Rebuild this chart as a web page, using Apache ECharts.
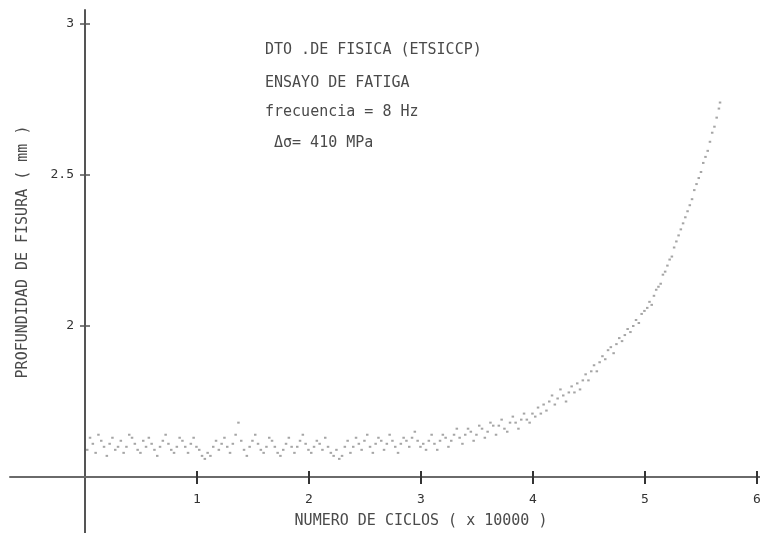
<!DOCTYPE html>
<html>
<head>
<meta charset="utf-8">
<title>Ensayo de fatiga</title>
<script src="https://cdn.jsdelivr.net/npm/echarts@6/dist/echarts.min.js"></script>
<style>
  html, body { margin: 0; padding: 0; background: #fff; }
  #chart { width: 760px; height: 533px; }
</style>
</head>
<body>
<div id="chart"></div>
<script>
// Ciclos (x 10000) y profundidad de fisura (mm), tramo a tramo
const ciclos = [
  0.02, 0.045, 0.07, 0.095, 0.12, 0.145, 0.17, 0.195, 0.22, 0.245,
  0.27, 0.295, 0.32, 0.345, 0.37, 0.395, 0.42, 0.445, 0.47, 0.495,
  0.52, 0.545, 0.57, 0.595, 0.62, 0.645, 0.67, 0.695, 0.72, 0.745,
  0.77, 0.795, 0.82, 0.845, 0.87, 0.895, 0.92, 0.945, 0.97, 0.995,
  1.02, 1.045, 1.07, 1.095, 1.12, 1.145, 1.17, 1.195, 1.22, 1.245,
  1.27, 1.295, 1.32, 1.345, 1.37, 1.395, 1.42, 1.445, 1.47, 1.495,
  1.52, 1.545, 1.57, 1.595, 1.62, 1.645, 1.67, 1.695, 1.72, 1.745,
  1.77, 1.795, 1.82, 1.845, 1.87, 1.895, 1.92, 1.945, 1.97, 1.995,
  2.02, 2.045, 2.07, 2.095, 2.12, 2.145, 2.17, 2.195, 2.22, 2.245,
  2.27, 2.295, 2.32, 2.345, 2.37, 2.395, 2.42, 2.445, 2.47, 2.495,
  2.52, 2.545, 2.57, 2.595, 2.62, 2.645, 2.67, 2.695, 2.72, 2.745,
  2.77, 2.795, 2.82, 2.845, 2.87, 2.895, 2.92, 2.945, 2.97, 2.995,
  3.02, 3.045, 3.07, 3.095, 3.12, 3.145, 3.17, 3.195, 3.22, 3.245,
  3.27, 3.295, 3.32, 3.345, 3.37, 3.395, 3.42, 3.445, 3.47, 3.495,
  3.52, 3.545, 3.57, 3.595, 3.62, 3.645, 3.67, 3.695, 3.72, 3.745,
  3.77, 3.795, 3.82, 3.845, 3.87, 3.895, 3.92, 3.945, 3.97, 3.995,
  4.02, 4.045, 4.07, 4.095, 4.12, 4.145, 4.17, 4.195, 4.22, 4.245,
  4.27, 4.295, 4.32, 4.345, 4.37, 4.395, 4.42, 4.445, 4.47, 4.495,
  4.52, 4.545, 4.57, 4.595, 4.62, 4.645, 4.67, 4.695, 4.72, 4.745,
  4.77, 4.795, 4.82, 4.845, 4.87, 4.895, 4.92, 4.945, 4.97, 4.995,
  5.02, 5.04, 5.06, 5.08, 5.10, 5.12, 5.14, 5.16, 5.18, 5.20,
  5.22, 5.24, 5.26, 5.28, 5.30, 5.32, 5.34, 5.36, 5.38, 5.40,
  5.42, 5.44, 5.46, 5.48, 5.50, 5.52, 5.54, 5.56, 5.58, 5.60,
  5.62, 5.64, 5.66, 5.67
];
const profundidad = [
  1.59, 1.63, 1.61, 1.58, 1.64, 1.62, 1.60, 1.57, 1.61, 1.63,
  1.59, 1.60, 1.62, 1.58, 1.60, 1.64, 1.63, 1.61, 1.59, 1.58,
  1.62, 1.60, 1.63, 1.61, 1.59, 1.57, 1.60, 1.62, 1.64, 1.61,
  1.59, 1.58, 1.60, 1.63, 1.62, 1.60, 1.58, 1.61, 1.63, 1.60,
  1.59, 1.57, 1.56, 1.58, 1.57, 1.60, 1.62, 1.59, 1.61, 1.63,
  1.60, 1.58, 1.61, 1.64, 1.68, 1.62, 1.59, 1.57, 1.60, 1.62,
  1.64, 1.61, 1.59, 1.58, 1.60, 1.63, 1.62, 1.60, 1.58, 1.57,
  1.59, 1.61, 1.63, 1.60, 1.58, 1.60, 1.62, 1.64, 1.61, 1.59,
  1.58, 1.60, 1.62, 1.61, 1.59, 1.63, 1.60, 1.58, 1.57, 1.59,
  1.56, 1.57, 1.60, 1.62, 1.58, 1.60, 1.63, 1.61, 1.59, 1.62,
  1.64, 1.60, 1.58, 1.61, 1.63, 1.62, 1.59, 1.61, 1.64, 1.62,
  1.60, 1.58, 1.61, 1.63, 1.62, 1.60, 1.63, 1.65, 1.62, 1.60,
  1.61, 1.59, 1.62, 1.64, 1.61, 1.59, 1.62, 1.64, 1.63, 1.60,
  1.62, 1.64, 1.66, 1.63, 1.61, 1.64, 1.66, 1.65, 1.62, 1.64,
  1.67, 1.66, 1.63, 1.65, 1.68, 1.67, 1.64, 1.67, 1.69, 1.66,
  1.65, 1.68, 1.70, 1.68, 1.66, 1.69, 1.71, 1.69, 1.68, 1.71,
  1.70, 1.73, 1.71, 1.74, 1.72, 1.75, 1.77, 1.74, 1.76, 1.79,
  1.77, 1.75, 1.78, 1.80, 1.78, 1.81, 1.79, 1.82, 1.84, 1.82,
  1.85, 1.87, 1.85, 1.88, 1.90, 1.89, 1.92, 1.93, 1.91, 1.94,
  1.96, 1.95, 1.97, 1.99, 1.98, 2.00, 2.02, 2.01, 2.04, 2.05,
  2.06, 2.08, 2.07, 2.10, 2.12, 2.13, 2.14, 2.17, 2.18, 2.20,
  2.22, 2.23, 2.26, 2.28, 2.30, 2.32, 2.34, 2.36, 2.38, 2.40,
  2.42, 2.45, 2.47, 2.49, 2.51, 2.54, 2.56, 2.58, 2.61, 2.64,
  2.66, 2.69, 2.72, 2.74
];

// Marcas de los ejes
const ticksX = [1, 2, 3, 4, 5, 6];
const ticksY = [2, 2.5, 3];

// Rango visible: los ejes se cruzan en (0, 1.5) y se prolongan más allá
const xMin = -0.6696, xMax = 6.0268;
const yMin = 1.3146, yMax = 3.0464;

const leyenda = [
  'DTO .DE FISICA (ETSICCP)',
  'ENSAYO DE FATIGA',
  'frecuencia = 8 Hz',
  'Δσ= 410 MPa'
];

const FONT = '"DejaVu Sans Mono", "Liberation Mono", monospace';
const INK = '#4a4a4a';

const puntos = ciclos.map((c, i) => [c, profundidad[i]]);

const chart = echarts.init(document.getElementById('chart'), null, { renderer: 'canvas' });

const ejeXBase = {
  type: 'value', min: xMin, max: xMax, position: 'bottom', offset: -56,
  splitLine: { show: false }
};
const ejeYBase = {
  type: 'value', min: yMin, max: yMax, position: 'left', offset: -75,
  splitLine: { show: false }
};

chart.setOption({
  backgroundColor: '#ffffff',
  animation: false,
  grid: { left: 10, right: 0, top: 10, bottom: 0, containLabel: false, outerBoundsMode: 'none' },
  xAxis: [
    Object.assign({}, ejeXBase, {
      name: 'NUMERO DE CICLOS ( x 10000 )',
      nameLocation: 'middle',
      nameGap: 37,
      nameTextStyle: { fontFamily: FONT, fontSize: 15, color: INK, padding: [0, 0, 0, 72] },
      axisLine: { show: true, onZero: false, lineStyle: { color: '#6a6a6a', width: 2 } },
      axisTick: { show: true, inside: false, length: 7, customValues: ticksX, lineStyle: { color: '#333', width: 2 } },
      axisLabel: { show: true, customValues: ticksX, margin: 16, fontFamily: FONT, fontSize: 13, color: '#333' }
    }),
    Object.assign({}, ejeXBase, {
      axisLine: { show: false, onZero: false },
      axisTick: { show: true, inside: true, length: 6, customValues: ticksX, lineStyle: { color: '#333', width: 2 } },
      axisLabel: { show: false }
    })
  ],
  yAxis: [
    Object.assign({}, ejeYBase, {
      name: 'PROFUNDIDAD DE FISURA ( mm )',
      nameLocation: 'middle',
      nameGap: 54,
      nameRotate: 90,
      nameTextStyle: { fontFamily: FONT, fontSize: 15, color: INK, padding: [0, 0, 0, 39] },
      axisLine: { show: true, onZero: false, lineStyle: { color: '#555', width: 2 } },
      axisTick: { show: true, inside: false, length: 5, customValues: ticksY, lineStyle: { color: '#555', width: 1.5 } },
      axisLabel: { show: true, customValues: ticksY, margin: 11, fontFamily: FONT, fontSize: 13, color: '#333' }
    }),
    Object.assign({}, ejeYBase, {
      axisLine: { show: false, onZero: false },
      axisTick: { show: true, inside: true, length: 5, customValues: ticksY, lineStyle: { color: '#555', width: 1.5 } },
      axisLabel: { show: false }
    })
  ],
  graphic: leyenda.map((t, i) => ({
    type: 'text',
    left: i === 3 ? 274 : 265,
    top: [43, 76, 105, 136][i],
    style: { text: t, font: '15px ' + FONT, fill: INK }
  })),
  series: [{
    type: 'scatter',
    xAxisIndex: 0,
    yAxisIndex: 0,
    data: puntos,
    symbol: 'rect',
    symbolSize: [2.5, 2],
    itemStyle: { color: '#8e8e8e' },
    silent: true
  }]
});
</script>
</body>
</html>
